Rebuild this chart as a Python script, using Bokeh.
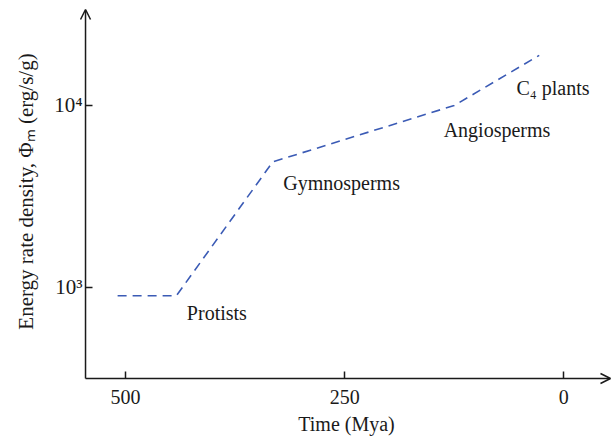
import math
from bokeh.plotting import figure
from bokeh.models import Range1d, FixedTicker, Arrow, OpenHead, ColumnDataSource, Label
from bokeh.core.properties import value
from bokeh.embed import file_html
from bokeh.resources import INLINE

# ---- data ----
time_mya = [509, 442, 332, 125, 28]
phi = [900, 900, 4900, 10000, 18850]

label_text = ["Protists", "Gymnosperms", "Angiosperms", "C\u2084 plants"]
label_time = [430, 320, 137, 54]
label_phi = [728, 3770, 7290, 12400]

x_ticks = [500, 250, 0]
y_ticks = [1000, 10000]
y_tick_labels = ["10\u00b3", "10\u2074"]

x_title = "Time (Mya)"
y_title = "Energy rate density, \u03a6\u2098 (erg/s/g)"

FONT = "Liberation Serif"
INK = "#1a1a1a"

# the frame covers the whole figure; axes are placed inside it at fixed locations
x_lo, x_hi = 642.6, -55.6
y_lo, y_hi = 10 ** 2.1813, 10 ** 4.5769
x_axis_at, x_arrow_tip = 545.6, -53.3
y_axis_at, y_arrow_tip = 10 ** 2.5, 10 ** 4.5275

W, H = 612, 436
p = figure(width=W, height=H,
           x_range=Range1d(x_lo, x_hi), y_range=Range1d(y_lo, y_hi),
           y_axis_type="log", output_backend="svg", toolbar_location=None,
           min_border_left=0, min_border_right=0, min_border_top=0,
           min_border_bottom=0)
p.outline_line_color = None
p.grid.visible = False
p.background_fill_color = "white"
p.border_fill_color = "white"

p.line(time_mya, phi, line_color="#3b5bb5", line_width=1.6, line_dash="9 6")

src = ColumnDataSource(dict(x=label_time, y=label_phi, t=label_text))
p.text(x="x", y="y", text="t", source=src, text_font=value(FONT),
       text_font_size="20px", text_baseline="alphabetic", text_align="left",
       text_color=INK)

for ax in (p.xaxis[0], p.yaxis[0]):
    ax.axis_line_color = None
    ax.major_tick_in = 7
    ax.major_tick_out = 0
    ax.minor_tick_line_color = None
    ax.major_tick_line_color = INK
    ax.major_tick_line_width = 1.5
    ax.major_label_text_font = FONT
    ax.major_label_text_font_size = "20px"
    ax.major_label_text_color = INK

p.xaxis.fixed_location = y_axis_at
p.xaxis.ticker = FixedTicker(ticks=x_ticks)
p.xaxis.major_label_standoff = 12

p.yaxis.fixed_location = x_axis_at
p.yaxis.ticker = FixedTicker(ticks=y_ticks)
p.yaxis.major_label_overrides = {t: l for t, l in zip(y_ticks, y_tick_labels)}
p.yaxis.major_label_text_font_size = "21px"
p.yaxis.major_label_standoff = 3

# axis titles
p.add_layout(Label(x=346, y=H - 423, x_units="screen", y_units="screen",
                   text=x_title, text_font=FONT, text_font_size="20px",
                   text_color=INK, text_align="center", text_baseline="middle"))
p.add_layout(Label(x=25, y=H - 191, x_units="screen", y_units="screen",
                   text=y_title, text_font=FONT, text_font_size="21px",
                   text_color=INK, text_align="center", text_baseline="middle",
                   angle=math.pi / 2))

p.add_layout(Arrow(x_start=x_axis_at, y_start=y_axis_at, x_end=x_arrow_tip, y_end=y_axis_at,
                   end=OpenHead(size=10, line_width=1.5, line_color=INK),
                   line_width=1.5, line_color=INK))
p.add_layout(Arrow(x_start=x_axis_at, y_start=y_axis_at, x_end=x_axis_at, y_end=y_arrow_tip,
                   end=OpenHead(size=10, line_width=1.5, line_color=INK),
                   line_width=1.5, line_color=INK))

open("out.html", "w").write(file_html(p, INLINE))
